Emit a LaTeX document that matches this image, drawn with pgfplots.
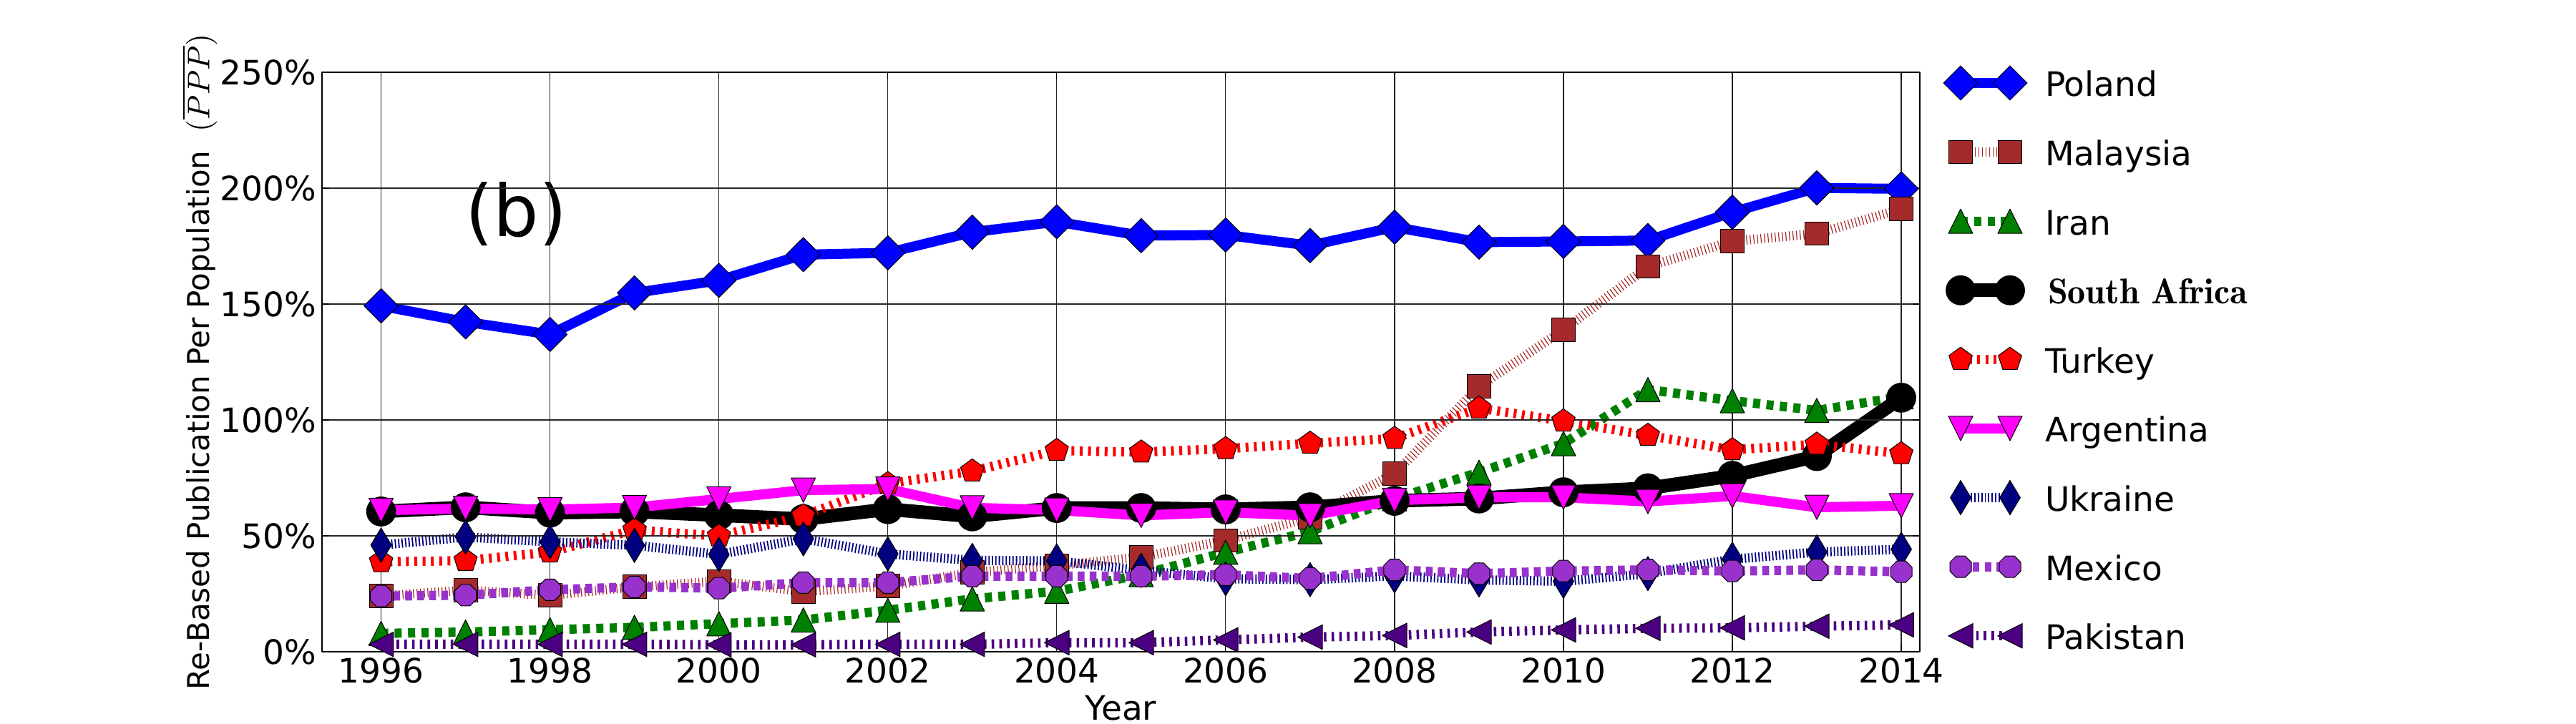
\documentclass[border=0pt]{standalone}
\usepackage[no-math]{fontspec}
\setmainfont{DejaVu Sans}
\usepackage{graphicx}
\usepackage{pgfplots}
\usepackage{pgfplotstable}
\pgfplotsset{compat=1.18}
\font\cmbfont=cmb10 at 12.5pt

\definecolor{mbrown}{HTML}{A52A2A}
\definecolor{mgreen}{HTML}{008000}
\definecolor{mnavy}{HTML}{000080}
\definecolor{morchid}{HTML}{9932CC}
\definecolor{mindigo}{HTML}{4B0082}
\definecolor{mmagenta}{HTML}{FF00FF}
\definecolor{mblue}{HTML}{0000FF}
\definecolor{mred}{HTML}{FF0000}

\pgfdeclareplotmark{mdiamond*}{%
  \pgfpathmoveto{\pgfqpoint{0pt}{\pgfplotmarksize}}%
  \pgfpathlineto{\pgfqpoint{\pgfplotmarksize}{0pt}}%
  \pgfpathlineto{\pgfqpoint{0pt}{-\pgfplotmarksize}}%
  \pgfpathlineto{\pgfqpoint{-\pgfplotmarksize}{0pt}}%
  \pgfpathclose\pgfusepathqfillstroke}
\pgfdeclareplotmark{mthindiamond*}{%
  \pgfpathmoveto{\pgfqpoint{0pt}{\pgfplotmarksize}}%
  \pgfpathlineto{\pgfqpoint{.6\pgfplotmarksize}{0pt}}%
  \pgfpathlineto{\pgfqpoint{0pt}{-\pgfplotmarksize}}%
  \pgfpathlineto{\pgfqpoint{-.6\pgfplotmarksize}{0pt}}%
  \pgfpathclose\pgfusepathqfillstroke}
\pgfdeclareplotmark{mtriup*}{%
  \pgfpathmoveto{\pgfqpoint{0pt}{\pgfplotmarksize}}%
  \pgfpathlineto{\pgfqpoint{-\pgfplotmarksize}{-\pgfplotmarksize}}%
  \pgfpathlineto{\pgfqpoint{\pgfplotmarksize}{-\pgfplotmarksize}}%
  \pgfpathclose\pgfusepathqfillstroke}
\pgfdeclareplotmark{mtridown*}{%
  \pgfpathmoveto{\pgfqpoint{0pt}{-\pgfplotmarksize}}%
  \pgfpathlineto{\pgfqpoint{-\pgfplotmarksize}{\pgfplotmarksize}}%
  \pgfpathlineto{\pgfqpoint{\pgfplotmarksize}{\pgfplotmarksize}}%
  \pgfpathclose\pgfusepathqfillstroke}
\pgfdeclareplotmark{mtrileft*}{%
  \pgfpathmoveto{\pgfqpoint{-\pgfplotmarksize}{0pt}}%
  \pgfpathlineto{\pgfqpoint{\pgfplotmarksize}{\pgfplotmarksize}}%
  \pgfpathlineto{\pgfqpoint{\pgfplotmarksize}{-\pgfplotmarksize}}%
  \pgfpathclose\pgfusepathqfillstroke}
\pgfdeclareplotmark{moctagon*}{%
  \pgfpathmoveto{\pgfqpointpolar{22.5}{\pgfplotmarksize}}%
  \pgfpathlineto{\pgfqpointpolar{67.5}{\pgfplotmarksize}}%
  \pgfpathlineto{\pgfqpointpolar{112.5}{\pgfplotmarksize}}%
  \pgfpathlineto{\pgfqpointpolar{157.5}{\pgfplotmarksize}}%
  \pgfpathlineto{\pgfqpointpolar{202.5}{\pgfplotmarksize}}%
  \pgfpathlineto{\pgfqpointpolar{247.5}{\pgfplotmarksize}}%
  \pgfpathlineto{\pgfqpointpolar{292.5}{\pgfplotmarksize}}%
  \pgfpathlineto{\pgfqpointpolar{337.5}{\pgfplotmarksize}}%
  \pgfpathclose\pgfusepathqfillstroke}

\pgfplotstableread{
year Poland Malaysia Iran SA Turkey Argentina Ukraine Mexico Pakistan
1996 149.2 24.0  7.9  60.5 38.8 61.0 46.0 24.0 3.2
1997 142.3 26.6  8.5  62.3 39.3 61.8 49.5 24.4 3.2
1998 136.9 24.3  9.5  60.0 43.0 61.3 47.4 26.7 3.2
1999 154.8 28.0 10.5  60.5 52.5 62.2 45.9 28.0 3.2
2000 160.2 30.4 12.1  58.9 49.9 65.9 42.0 27.4 3.0
2001 171.3 26.0 13.7  57.2 58.6 69.7 48.7 29.8 3.0
2002 172.1 28.3 17.9  61.5 72.5 70.2 42.2 29.8 3.2
2003 181.0 34.2 22.8  58.4 77.9 62.1 39.4 32.6 3.2
2004 185.5 37.2 26.1  62.0 86.8 61.1 39.2 32.6 3.9
2005 179.5 40.8 33.3  62.0 86.1 58.8 35.1 32.6 3.9
2006 179.8 48.0 42.9  61.4 87.6 60.2 31.5 33.2 5.1
2007 175.2 57.9 51.8  62.3 89.9 58.7 31.1 31.6 6.3
2008 183.2 76.8 66.0  65.1 92.0 65.3 32.7 35.3 7.0
2009 176.7 114.4 77.4 66.1 105.1 66.6 31.0 33.7 8.5
2010 177.0 138.8 89.8 68.8 99.5 66.6 30.4 34.8 9.4
2011 177.4 166.2 113.1 70.5 93.3 64.8 33.7 35.3 10.1
2012 189.6 177.1 108.3 75.9 87.1 67.2 39.9 34.8 10.3
2013 200.1 180.4 104.1 84.4 89.5 62.3 43.0 35.3 11.0
2014 199.7 191.0 110.0 109.6 85.4 63.0 44.2 34.5 11.6
}\datatable

\begin{document}
\begin{tikzpicture}
\path[use as bounding box] (-112.5pt,-25.25pt) rectangle (787.5pt,227.75pt);
\begin{axis}[
  at={(0pt,0pt)}, anchor=south west,
  scale only axis, width=558.25pt, height=202.5pt,
  xmin=1995.3, xmax=2014.22, ymin=0, ymax=250,
  xtick={1996,1998,...,2014},
  xticklabels={1996,1998,2000,2002,2004,2006,2008,2010,2012,2014},
  ytick={0,50,...,250},
  yticklabels={0\%,50\%,100\%,150\%,200\%,250\%},
  grid=major, major grid style={black!85, line width=0.3pt},
  axis line style={black, line width=0.5pt},
  tick align=inside, major tick length=2.5pt, tick style={black, line width=0.3pt},
  axis on top,
  ticklabel style={font=\fontsize{11.75}{14}\selectfont},
  yticklabel style={inner sep=0pt, xshift=-1.75pt},
  xticklabel style={inner sep=0pt, yshift=-2pt},
  xlabel={Year},
  every axis x label/.style={at={(axis description cs:0.5,0)}, anchor=north, inner sep=0pt, yshift=-15pt, font=\fontsize{11.75}{14}\selectfont},
  ylabel={Re-Based Publication Per Population\ \ $(\overline{PPP})$},
  every axis y label/.style={at={(axis description cs:-0.07044,0.5)}, rotate=90, anchor=base, inner sep=0pt, font=\fontsize{10.5}{12}\selectfont},
  legend style={at={(axis description cs:1,1)}, anchor=north west, xshift=8.25pt, yshift=2.5pt,
    draw=none, fill=none, inner sep=0pt, outer sep=0pt, row sep=11.65pt, column sep=6.25pt,
    font=\fontsize{11.75}{14}\selectfont,
    nodes={inner sep=0pt, text height=11pt, text depth=1.5pt}},
  legend cell align=left,
  legend image code/.code={\draw[#1] plot coordinates {(0pt,0pt) (17.25pt,0pt)};},
  line join=round,
]
\addplot[mblue, line width=3.5pt, mark=mdiamond*, mark size=6pt,
  mark options={solid, fill=mblue, draw=black, line width=0.25pt}]
  table[x=year, y=Poland]{\datatable};
\addlegendentry{Poland}
\addplot[mbrown, line width=3.25pt, dash pattern=on 0.3pt off 0.95pt, mark=square*, mark size=4.1pt,
  mark options={solid, fill=mbrown, draw=black, line width=0.25pt}]
  table[x=year, y=Malaysia]{\datatable};
\addlegendentry{Malaysia}
\addplot[mgreen, line width=3.25pt, dash pattern=on 2.5pt off 2.2pt, mark=mtriup*, mark size=4.25pt,
  mark options={solid, fill=mgreen, draw=black, line width=0.25pt}]
  table[x=year, y=Iran]{\datatable};
\addlegendentry{Iran}
\addplot[black, line width=4.75pt, mark=*, mark size=5.1pt,
  mark options={solid, fill=black, draw=black, line width=0.25pt}]
  table[x=year, y=SA]{\datatable};
\addlegendentry{\hspace*{1pt}{\cmbfont South Africa}}
\addplot[mred, line width=3.25pt, dash pattern=on 1pt off 1.9pt, mark=pentagon*, mark size=4.3pt,
  mark options={solid, fill=mred, draw=black, line width=0.25pt}]
  table[x=year, y=Turkey]{\datatable};
\addlegendentry{Turkey}
\addplot[mmagenta, line width=3.5pt, mark=mtridown*, mark size=4.25pt,
  mark options={solid, fill=mmagenta, draw=black, line width=0.25pt}]
  table[x=year, y=Argentina]{\datatable};
\addlegendentry{Argentina}
\addplot[mnavy, line width=3.25pt, dash pattern=on 0.45pt off 0.75pt, mark=mthindiamond*, mark size=6pt,
  mark options={solid, fill=mnavy, draw=black, line width=0.25pt}]
  table[x=year, y=Ukraine]{\datatable};
\addlegendentry{Ukraine}
\addplot[morchid, line width=3.25pt, dash pattern=on 2.4pt off 1.8pt, mark=moctagon*, mark size=4.06pt,
  mark options={solid, fill=morchid, draw=black, line width=0.25pt}]
  table[x=year, y=Mexico]{\datatable};
\addlegendentry{Mexico}
\addplot[mindigo, line width=3.25pt, dash pattern=on 0.9pt off 1.8pt, mark=mtrileft*, mark size=4.3pt,
  mark options={solid, fill=mindigo, draw=black, line width=0.25pt}]
  table[x=year, y=Pakistan]{\datatable};
\addlegendentry{Pakistan}
\node[font=\fontsize{25}{29}\selectfont, inner sep=0pt] at (axis cs:1997.6,188.9) {(b)};
\end{axis}
\end{tikzpicture}
\end{document}
